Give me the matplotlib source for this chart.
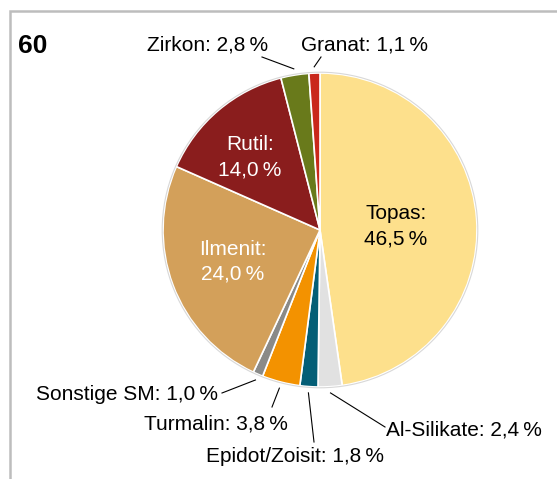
import numpy as np
import matplotlib
matplotlib.use("Agg")
import matplotlib.pyplot as plt

plt.rcParams['font.family'] = ['Liberation Sans', 'DejaVu Sans']

# Schwerminerale, Probe 60 (Anteile in %)
minerals = ['Topas', 'Al-Silikate', 'Epidot/Zoisit', 'Turmalin', 'Sonstige SM',
            'Ilmenit', 'Rutil', 'Zirkon', 'Granat']
shares = [46.5, 2.4, 1.8, 3.8, 1.0, 24.0, 14.0, 2.8, 1.1]
colors = ['#FDE08C', '#E1E1E1', '#045E76', '#F39200', '#8A8A88',
          '#D3A05A', '#8A1D1D', '#697A1B', '#C9281B']
sample = '60'

W, H = 557, 479


def Y(y):
    # pixel row (from top) -> axis y
    return H - y


fig = plt.figure(figsize=(W / 100, H / 100), dpi=100)
ax = fig.add_axes([0, 0, 1, 1])

cx, cy, R = 320, Y(230), 157
wedges, _ = ax.pie(shares, colors=colors, startangle=90, counterclock=False,
                   center=(cx, cy), radius=R,
                   wedgeprops=dict(edgecolor='white', linewidth=1.2))
# faint rim around the pie
ax.add_patch(plt.Circle((cx, cy), R + 0.8, fill=False, edgecolor='#D8D8D8', lw=0.8))
ax.set_xlim(0, W)
ax.set_ylim(0, H)
ax.set_aspect('equal')
ax.axis('off')

# frame (cut at right/bottom)
ax.plot([9.5, 9.5, W + 5], [-5, Y(10.5), Y(10.5)], color='#BDBDBD', lw=1.8,
        solid_joinstyle='miter', clip_on=False)

ax.text(18, Y(46), sample, fontsize=19, fontweight='bold', va='center', ha='left')


def fmt(name, v):
    return f'{name}: {v:.1f}\u2009%'.replace('.', ',')


# labels inside slices: (pos, text color)
inside = {
    'Topas': ((396, 226), 'black'),
    'Rutil': ((250, 157), 'white'),
    'Ilmenit': ((233, 262), 'white'),
}
# labels outside: text pos, alignment, line start
outside = {
    'Zirkon': ((268, 45), 'right', (262, 57)),
    'Granat': ((301, 45), 'left', (321, 57)),
    'Sonstige SM': ((218, 395), 'right', (222, 393)),
    'Turmalin': ((288, 424), 'right', (272, 407)),
    'Epidot/Zoisit': ((295, 457), 'center', (314, 442)),
    'Al-Silikate': ((386, 430), 'left', (385, 427)),
}

for w, name, v in zip(wedges, minerals, shares):
    if name in inside:
        (x, y), c = inside[name]
        ax.text(x, Y(y), f'{name}:\n{v:.1f}\u2009%'.replace('.', ','), color=c,
                fontsize=15, ha='center', va='center', linespacing=1.4)
    else:
        (x, y), ha, (lx, ly) = outside[name]
        ang = np.deg2rad((w.theta1 + w.theta2) / 2)
        px = cx + 1.04 * R * np.cos(ang)
        py = cy + 1.04 * R * np.sin(ang)
        ax.plot([px, lx], [py, Y(ly)], color='black', lw=0.8)
        ax.text(x, Y(y), fmt(name, v), fontsize=15, ha=ha, va='center')

fig.savefig('out.png', dpi=100)
